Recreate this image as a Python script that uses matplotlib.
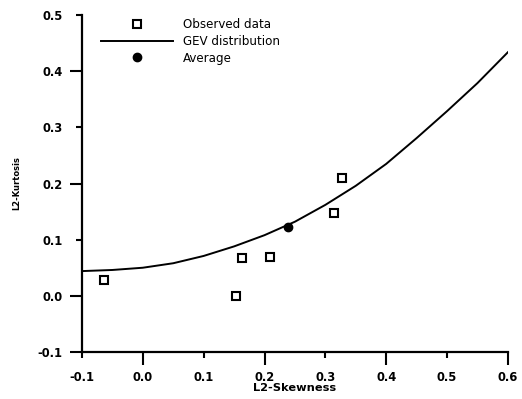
import matplotlib
matplotlib.use("Agg")
import matplotlib.pyplot as plt

plt.rcParams['font.family'] = ['DejaVu Sans']

# observed L-moment ratios
obs_skew = [-0.064, 0.153, 0.163, 0.209, 0.315, 0.327]
obs_kurt = [0.028, 0.000, 0.067, 0.069, 0.147, 0.210]

# average point
avg_skew = [0.238]
avg_kurt = [0.122]

# GEV curve
gev_skew = [-0.10, -0.05, 0.00, 0.05, 0.10, 0.15, 0.20, 0.25, 0.30, 0.35, 0.40, 0.45, 0.50, 0.55, 0.60]
gev_kurt = [0.044, 0.046, 0.050, 0.058, 0.071, 0.088, 0.108, 0.132, 0.162, 0.196, 0.235, 0.281, 0.329, 0.379, 0.434]

xticks = [-0.1, 0.0, 0.1, 0.2, 0.3, 0.4, 0.5, 0.6]
yticks = [-0.1, 0.0, 0.1, 0.2, 0.3, 0.4, 0.5]

fig = plt.figure(figsize=(5.22, 3.99), dpi=100)
ax = fig.add_axes([0.157, 0.118, 0.816, 0.844])

ax.plot(gev_skew, gev_kurt, color='black', lw=1.4, label='GEV distribution')
ax.plot(obs_skew, obs_kurt, ls='none', marker='s', ms=5.5, mfc='white', mec='black',
        mew=1.5, label='Observed data')
ax.plot(avg_skew, avg_kurt, ls='none', marker='o', ms=6, color='black', label='Average')

ax.set_xlim(-0.1, 0.6)
ax.set_ylim(-0.1, 0.5)
ax.set_xticks(xticks)
ax.set_yticks(yticks)
ax.xaxis.set_major_formatter(plt.FormatStrFormatter('%.1f'))
ax.yaxis.set_major_formatter(plt.FormatStrFormatter('%.1f'))

for side in ['top', 'right']:
    ax.spines[side].set_visible(False)
for side in ['left', 'bottom']:
    ax.spines[side].set_linewidth(1.6)
ax.tick_params(axis='x', direction='out', length=9, width=1.5, labelsize=8.3, pad=4.5)
ax.tick_params(axis='y', direction='out', length=9, width=1.5, labelsize=8.3, pad=5)
for lab in ax.get_xticklabels() + ax.get_yticklabels():
    lab.set_fontweight('bold')

# long ticks on even tenths, short ones between
for t, v in zip(ax.xaxis.get_major_ticks(), xticks):
    if round(v * 10) % 2:
        t.tick1line.set_markersize(4.3)
for t, v in zip(ax.yaxis.get_major_ticks(), yticks):
    if round(v * 10) % 2 and v > -0.05:
        t.tick1line.set_markersize(4.3)

ax.set_xlabel('L2-Skewness', fontsize=8.2, fontweight='bold', labelpad=-0.5)
ax.set_ylabel('L2-Kurtosis', fontsize=6, fontweight='bold', labelpad=12)

h, l = ax.get_legend_handles_labels()
order = [1, 0, 2]
ax.legend([h[i] for i in order], [l[i] for i in order], loc='upper left',
          bbox_to_anchor=(0.025, 1.015), frameon=False, fontsize=8.6, handlelength=6,
          handletextpad=0.85, labelspacing=0.3, borderpad=0.2)

fig.savefig('out.png', dpi=100)
